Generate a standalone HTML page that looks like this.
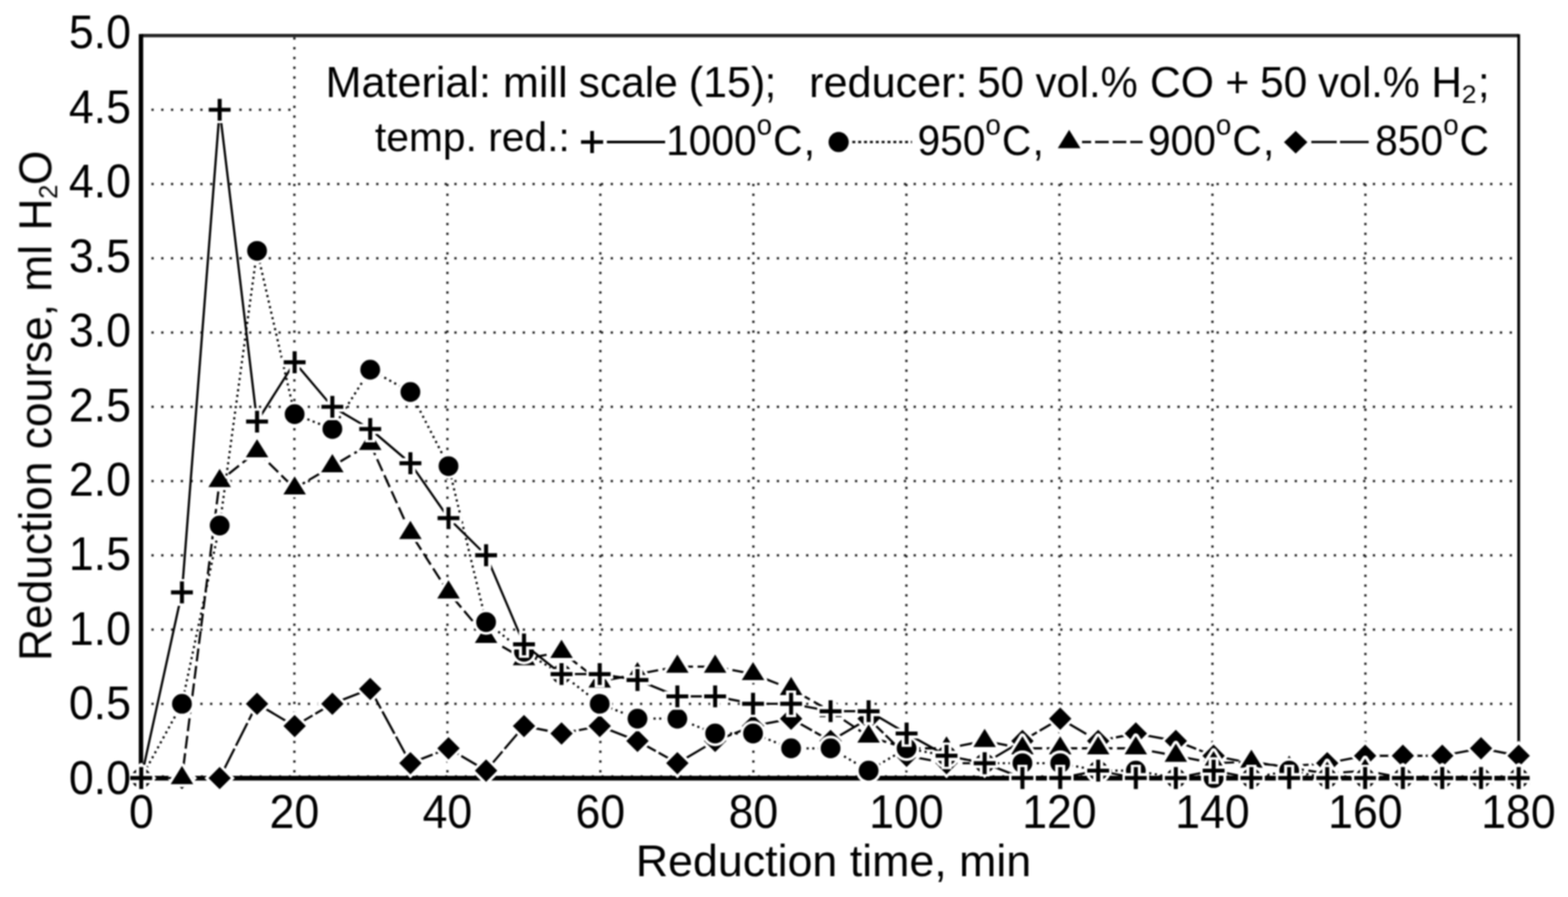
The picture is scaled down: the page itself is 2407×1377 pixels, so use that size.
<!DOCTYPE html>
<html><head><meta charset="utf-8"><title>Reduction course chart</title>
<style>html,body{margin:0;padding:0;background:#fff;}svg{display:block;}text{font-family:"Liberation Sans",Arial,Helvetica,sans-serif;fill:#000;}</style></head><body>
<svg width="2407" height="1377" viewBox="0 0 2407 1377">
<defs><filter id="soft" filterUnits="userSpaceOnUse" x="0" y="0" width="2407" height="1377" color-interpolation-filters="sRGB"><feGaussianBlur stdDeviation="1"/></filter></defs>
<rect width="2407" height="1377" fill="#fff"/>
<g filter="url(#soft)">
<path d="M451.9 57.3V1192M686.8 57.3V1192M921.6 57.3V1192M1156.5 57.3V1192M1391.4 57.3V1192M1626.3 57.3V1192M1861.2 57.3V1192M2096 57.3V1192M232.5 1080.4H2330M232.5 966.4H2330M232.5 852.4H2330M232.5 738.4H2330M232.5 624.5H2330M232.5 510.5H2330M232.5 396.5H2330M232.5 282.5H2330M232.5 168.5H2330" stroke="#1a1a1a" stroke-width="3.5" stroke-dasharray="3.4 11.6" fill="none"/>
<path d="M218.5 1191.5H2330" stroke="#333" stroke-width="3" stroke-dasharray="3 12" fill="none"/>
<rect x="455" y="56" width="1874" height="223" fill="#fff"/>
<path d="M217 54.6H2331.3" stroke="#262626" stroke-width="5.4" fill="none"/>
<path d="M2331.3 52.5V1196" stroke="#000" stroke-width="4.2" fill="none"/>
<path d="M216.4 52.2V1197" stroke="#000" stroke-width="6.8" fill="none"/>
<path d="M214.5 1194.6H2333" stroke="#000" stroke-width="7.2" fill="none"/>
<polyline points="216.8,1194.4 279.3,1194.4 337.2,1194.4 394.6,1080.4 452.3,1114.6 510.2,1080.4 568.3,1057.6 630,1171.6 688.5,1148.8 746.2,1183 804.4,1114.6 862,1126 920.6,1114.6 978.6,1137.4 1039.8,1171.6 1097.8,1137.4 1156,1114.6 1214.4,1103.2 1275,1137.4 1333.4,1103.2 1391.7,1160.2 1453,1171.6 1511.5,1171.6 1569.5,1137.4 1627.5,1103.2 1685.8,1137.4 1743.6,1126 1805,1137.4 1863,1160.2 1921,1171.6 1979,1176.2 2037.4,1171.6 2095.6,1160.2 2153.5,1160.2 2214,1160.2 2273.5,1148.8 2331.3,1160.2" fill="none" stroke="#000" stroke-width="3.4" stroke-linejoin="round" stroke-dasharray="39 5"/>
<path d="M216.8 1177.2L234 1194.4L216.8 1211.6L199.6 1194.4Z" fill="#fff" stroke="#fff" stroke-width="8.5" stroke-linejoin="miter"/><path d="M216.8 1177.2L234 1194.4L216.8 1211.6L199.6 1194.4Z" fill="#000"/><path d="M279.3 1177.2L296.5 1194.4L279.3 1211.6L262.1 1194.4Z" fill="#fff" stroke="#fff" stroke-width="8.5" stroke-linejoin="miter"/><path d="M279.3 1177.2L296.5 1194.4L279.3 1211.6L262.1 1194.4Z" fill="#000"/><path d="M337.2 1177.2L354.4 1194.4L337.2 1211.6L320 1194.4Z" fill="#fff" stroke="#fff" stroke-width="8.5" stroke-linejoin="miter"/><path d="M337.2 1177.2L354.4 1194.4L337.2 1211.6L320 1194.4Z" fill="#000"/><path d="M394.6 1063.2L411.8 1080.4L394.6 1097.6L377.4 1080.4Z" fill="#fff" stroke="#fff" stroke-width="8.5" stroke-linejoin="miter"/><path d="M394.6 1063.2L411.8 1080.4L394.6 1097.6L377.4 1080.4Z" fill="#000"/><path d="M452.3 1097.4L469.5 1114.6L452.3 1131.8L435.1 1114.6Z" fill="#fff" stroke="#fff" stroke-width="8.5" stroke-linejoin="miter"/><path d="M452.3 1097.4L469.5 1114.6L452.3 1131.8L435.1 1114.6Z" fill="#000"/><path d="M510.2 1063.2L527.4 1080.4L510.2 1097.6L493 1080.4Z" fill="#fff" stroke="#fff" stroke-width="8.5" stroke-linejoin="miter"/><path d="M510.2 1063.2L527.4 1080.4L510.2 1097.6L493 1080.4Z" fill="#000"/><path d="M568.3 1040.4L585.5 1057.6L568.3 1074.8L551.1 1057.6Z" fill="#fff" stroke="#fff" stroke-width="8.5" stroke-linejoin="miter"/><path d="M568.3 1040.4L585.5 1057.6L568.3 1074.8L551.1 1057.6Z" fill="#000"/><path d="M630 1154.4L647.2 1171.6L630 1188.8L612.8 1171.6Z" fill="#fff" stroke="#fff" stroke-width="8.5" stroke-linejoin="miter"/><path d="M630 1154.4L647.2 1171.6L630 1188.8L612.8 1171.6Z" fill="#000"/><path d="M688.5 1131.6L705.7 1148.8L688.5 1166L671.3 1148.8Z" fill="#fff" stroke="#fff" stroke-width="8.5" stroke-linejoin="miter"/><path d="M688.5 1131.6L705.7 1148.8L688.5 1166L671.3 1148.8Z" fill="#000"/><path d="M746.2 1165.8L763.4 1183L746.2 1200.2L729 1183Z" fill="#fff" stroke="#fff" stroke-width="8.5" stroke-linejoin="miter"/><path d="M746.2 1165.8L763.4 1183L746.2 1200.2L729 1183Z" fill="#000"/><path d="M804.4 1097.4L821.6 1114.6L804.4 1131.8L787.2 1114.6Z" fill="#fff" stroke="#fff" stroke-width="8.5" stroke-linejoin="miter"/><path d="M804.4 1097.4L821.6 1114.6L804.4 1131.8L787.2 1114.6Z" fill="#000"/><path d="M862 1108.8L879.2 1126L862 1143.2L844.8 1126Z" fill="#fff" stroke="#fff" stroke-width="8.5" stroke-linejoin="miter"/><path d="M862 1108.8L879.2 1126L862 1143.2L844.8 1126Z" fill="#000"/><path d="M920.6 1097.4L937.8 1114.6L920.6 1131.8L903.4 1114.6Z" fill="#fff" stroke="#fff" stroke-width="8.5" stroke-linejoin="miter"/><path d="M920.6 1097.4L937.8 1114.6L920.6 1131.8L903.4 1114.6Z" fill="#000"/><path d="M978.6 1120.2L995.8 1137.4L978.6 1154.6L961.4 1137.4Z" fill="#fff" stroke="#fff" stroke-width="8.5" stroke-linejoin="miter"/><path d="M978.6 1120.2L995.8 1137.4L978.6 1154.6L961.4 1137.4Z" fill="#000"/><path d="M1039.8 1154.4L1057 1171.6L1039.8 1188.8L1022.6 1171.6Z" fill="#fff" stroke="#fff" stroke-width="8.5" stroke-linejoin="miter"/><path d="M1039.8 1154.4L1057 1171.6L1039.8 1188.8L1022.6 1171.6Z" fill="#000"/><path d="M1097.8 1120.2L1115 1137.4L1097.8 1154.6L1080.6 1137.4Z" fill="#fff" stroke="#fff" stroke-width="8.5" stroke-linejoin="miter"/><path d="M1097.8 1120.2L1115 1137.4L1097.8 1154.6L1080.6 1137.4Z" fill="#000"/><path d="M1156 1097.4L1173.2 1114.6L1156 1131.8L1138.8 1114.6Z" fill="#fff" stroke="#fff" stroke-width="8.5" stroke-linejoin="miter"/><path d="M1156 1097.4L1173.2 1114.6L1156 1131.8L1138.8 1114.6Z" fill="#000"/><path d="M1214.4 1086L1231.6 1103.2L1214.4 1120.4L1197.2 1103.2Z" fill="#fff" stroke="#fff" stroke-width="8.5" stroke-linejoin="miter"/><path d="M1214.4 1086L1231.6 1103.2L1214.4 1120.4L1197.2 1103.2Z" fill="#000"/><path d="M1275 1120.2L1292.2 1137.4L1275 1154.6L1257.8 1137.4Z" fill="#fff" stroke="#fff" stroke-width="8.5" stroke-linejoin="miter"/><path d="M1275 1120.2L1292.2 1137.4L1275 1154.6L1257.8 1137.4Z" fill="#000"/><path d="M1333.4 1086L1350.6 1103.2L1333.4 1120.4L1316.2 1103.2Z" fill="#fff" stroke="#fff" stroke-width="8.5" stroke-linejoin="miter"/><path d="M1333.4 1086L1350.6 1103.2L1333.4 1120.4L1316.2 1103.2Z" fill="#000"/><path d="M1391.7 1143L1408.9 1160.2L1391.7 1177.4L1374.5 1160.2Z" fill="#fff" stroke="#fff" stroke-width="8.5" stroke-linejoin="miter"/><path d="M1391.7 1143L1408.9 1160.2L1391.7 1177.4L1374.5 1160.2Z" fill="#000"/><path d="M1453 1154.4L1470.2 1171.6L1453 1188.8L1435.8 1171.6Z" fill="#fff" stroke="#fff" stroke-width="8.5" stroke-linejoin="miter"/><path d="M1453 1154.4L1470.2 1171.6L1453 1188.8L1435.8 1171.6Z" fill="#000"/><path d="M1511.5 1154.4L1528.7 1171.6L1511.5 1188.8L1494.3 1171.6Z" fill="#fff" stroke="#fff" stroke-width="8.5" stroke-linejoin="miter"/><path d="M1511.5 1154.4L1528.7 1171.6L1511.5 1188.8L1494.3 1171.6Z" fill="#000"/><path d="M1569.5 1120.2L1586.7 1137.4L1569.5 1154.6L1552.3 1137.4Z" fill="#fff" stroke="#fff" stroke-width="8.5" stroke-linejoin="miter"/><path d="M1569.5 1120.2L1586.7 1137.4L1569.5 1154.6L1552.3 1137.4Z" fill="#000"/><path d="M1627.5 1086L1644.7 1103.2L1627.5 1120.4L1610.3 1103.2Z" fill="#fff" stroke="#fff" stroke-width="8.5" stroke-linejoin="miter"/><path d="M1627.5 1086L1644.7 1103.2L1627.5 1120.4L1610.3 1103.2Z" fill="#000"/><path d="M1685.8 1120.2L1703 1137.4L1685.8 1154.6L1668.6 1137.4Z" fill="#fff" stroke="#fff" stroke-width="8.5" stroke-linejoin="miter"/><path d="M1685.8 1120.2L1703 1137.4L1685.8 1154.6L1668.6 1137.4Z" fill="#000"/><path d="M1743.6 1108.8L1760.8 1126L1743.6 1143.2L1726.4 1126Z" fill="#fff" stroke="#fff" stroke-width="8.5" stroke-linejoin="miter"/><path d="M1743.6 1108.8L1760.8 1126L1743.6 1143.2L1726.4 1126Z" fill="#000"/><path d="M1805 1120.2L1822.2 1137.4L1805 1154.6L1787.8 1137.4Z" fill="#fff" stroke="#fff" stroke-width="8.5" stroke-linejoin="miter"/><path d="M1805 1120.2L1822.2 1137.4L1805 1154.6L1787.8 1137.4Z" fill="#000"/><path d="M1863 1143L1880.2 1160.2L1863 1177.4L1845.8 1160.2Z" fill="#fff" stroke="#fff" stroke-width="8.5" stroke-linejoin="miter"/><path d="M1863 1143L1880.2 1160.2L1863 1177.4L1845.8 1160.2Z" fill="#000"/><path d="M1921 1154.4L1938.2 1171.6L1921 1188.8L1903.8 1171.6Z" fill="#fff" stroke="#fff" stroke-width="8.5" stroke-linejoin="miter"/><path d="M1921 1154.4L1938.2 1171.6L1921 1188.8L1903.8 1171.6Z" fill="#000"/><path d="M1979 1159L1996.2 1176.2L1979 1193.4L1961.8 1176.2Z" fill="#fff" stroke="#fff" stroke-width="8.5" stroke-linejoin="miter"/><path d="M1979 1159L1996.2 1176.2L1979 1193.4L1961.8 1176.2Z" fill="#000"/><path d="M2037.4 1154.4L2054.6 1171.6L2037.4 1188.8L2020.2 1171.6Z" fill="#fff" stroke="#fff" stroke-width="8.5" stroke-linejoin="miter"/><path d="M2037.4 1154.4L2054.6 1171.6L2037.4 1188.8L2020.2 1171.6Z" fill="#000"/><path d="M2095.6 1143L2112.8 1160.2L2095.6 1177.4L2078.4 1160.2Z" fill="#fff" stroke="#fff" stroke-width="8.5" stroke-linejoin="miter"/><path d="M2095.6 1143L2112.8 1160.2L2095.6 1177.4L2078.4 1160.2Z" fill="#000"/><path d="M2153.5 1143L2170.7 1160.2L2153.5 1177.4L2136.3 1160.2Z" fill="#fff" stroke="#fff" stroke-width="8.5" stroke-linejoin="miter"/><path d="M2153.5 1143L2170.7 1160.2L2153.5 1177.4L2136.3 1160.2Z" fill="#000"/><path d="M2214 1143L2231.2 1160.2L2214 1177.4L2196.8 1160.2Z" fill="#fff" stroke="#fff" stroke-width="8.5" stroke-linejoin="miter"/><path d="M2214 1143L2231.2 1160.2L2214 1177.4L2196.8 1160.2Z" fill="#000"/><path d="M2273.5 1131.6L2290.7 1148.8L2273.5 1166L2256.3 1148.8Z" fill="#fff" stroke="#fff" stroke-width="8.5" stroke-linejoin="miter"/><path d="M2273.5 1131.6L2290.7 1148.8L2273.5 1166L2256.3 1148.8Z" fill="#000"/><path d="M2331.3 1143L2348.5 1160.2L2331.3 1177.4L2314.1 1160.2Z" fill="#fff" stroke="#fff" stroke-width="8.5" stroke-linejoin="miter"/><path d="M2331.3 1143L2348.5 1160.2L2331.3 1177.4L2314.1 1160.2Z" fill="#000"/>
<polyline points="216.8,1194.4 279.3,1194.4 337.2,738.4 394.6,692.8 452.3,749.8 510.2,715.6 568.3,681.4 630,818.2 688.5,909.4 746.2,977.8 804.4,1012 862,1000.6 920.6,1046.2 978.6,1034.8 1039.8,1023.4 1097.8,1023.4 1156,1034.8 1214.4,1057.6 1275,1091.8 1333.4,1130.6 1391.7,1148.8 1453,1148.8 1511.5,1137.4 1569.5,1148.8 1627.5,1148.8 1685.8,1148.8 1743.6,1148.8 1805,1160.2 1863,1171.6 1921,1169.3 1979,1178.4 2037.4,1187.6 2095.6,1183 2153.5,1194.4 2214,1194.4 2273.5,1194.4 2331.3,1194.4" fill="none" stroke="#000" stroke-width="3.4" stroke-linejoin="round" stroke-dasharray="20 7"/>
<path d="M216.8 1175.8L234.1 1203.7L199.5 1203.7Z" fill="#fff" stroke="#fff" stroke-width="9" stroke-linejoin="round"/><path d="M216.8 1175.8L234.1 1203.7L199.5 1203.7Z" fill="#000"/><path d="M279.3 1175.8L296.6 1203.7L262 1203.7Z" fill="#fff" stroke="#fff" stroke-width="9" stroke-linejoin="round"/><path d="M279.3 1175.8L296.6 1203.7L262 1203.7Z" fill="#000"/><path d="M337.2 719.8L354.5 747.7L319.9 747.7Z" fill="#fff" stroke="#fff" stroke-width="9" stroke-linejoin="round"/><path d="M337.2 719.8L354.5 747.7L319.9 747.7Z" fill="#000"/><path d="M394.6 674.2L411.9 702.1L377.3 702.1Z" fill="#fff" stroke="#fff" stroke-width="9" stroke-linejoin="round"/><path d="M394.6 674.2L411.9 702.1L377.3 702.1Z" fill="#000"/><path d="M452.3 731.2L469.6 759.1L435 759.1Z" fill="#fff" stroke="#fff" stroke-width="9" stroke-linejoin="round"/><path d="M452.3 731.2L469.6 759.1L435 759.1Z" fill="#000"/><path d="M510.2 697L527.5 724.9L492.9 724.9Z" fill="#fff" stroke="#fff" stroke-width="9" stroke-linejoin="round"/><path d="M510.2 697L527.5 724.9L492.9 724.9Z" fill="#000"/><path d="M568.3 662.8L585.6 690.7L551 690.7Z" fill="#fff" stroke="#fff" stroke-width="9" stroke-linejoin="round"/><path d="M568.3 662.8L585.6 690.7L551 690.7Z" fill="#000"/><path d="M630 799.6L647.3 827.5L612.7 827.5Z" fill="#fff" stroke="#fff" stroke-width="9" stroke-linejoin="round"/><path d="M630 799.6L647.3 827.5L612.7 827.5Z" fill="#000"/><path d="M688.5 890.8L705.8 918.7L671.2 918.7Z" fill="#fff" stroke="#fff" stroke-width="9" stroke-linejoin="round"/><path d="M688.5 890.8L705.8 918.7L671.2 918.7Z" fill="#000"/><path d="M746.2 959.2L763.5 987.1L728.9 987.1Z" fill="#fff" stroke="#fff" stroke-width="9" stroke-linejoin="round"/><path d="M746.2 959.2L763.5 987.1L728.9 987.1Z" fill="#000"/><path d="M804.4 993.4L821.7 1021.3L787.1 1021.3Z" fill="#fff" stroke="#fff" stroke-width="9" stroke-linejoin="round"/><path d="M804.4 993.4L821.7 1021.3L787.1 1021.3Z" fill="#000"/><path d="M862 982L879.3 1009.9L844.7 1009.9Z" fill="#fff" stroke="#fff" stroke-width="9" stroke-linejoin="round"/><path d="M862 982L879.3 1009.9L844.7 1009.9Z" fill="#000"/><path d="M920.6 1027.6L937.9 1055.5L903.3 1055.5Z" fill="#fff" stroke="#fff" stroke-width="9" stroke-linejoin="round"/><path d="M920.6 1027.6L937.9 1055.5L903.3 1055.5Z" fill="#000"/><path d="M978.6 1016.2L995.9 1044.1L961.3 1044.1Z" fill="#fff" stroke="#fff" stroke-width="9" stroke-linejoin="round"/><path d="M978.6 1016.2L995.9 1044.1L961.3 1044.1Z" fill="#000"/><path d="M1039.8 1004.8L1057.1 1032.7L1022.5 1032.7Z" fill="#fff" stroke="#fff" stroke-width="9" stroke-linejoin="round"/><path d="M1039.8 1004.8L1057.1 1032.7L1022.5 1032.7Z" fill="#000"/><path d="M1097.8 1004.8L1115.1 1032.7L1080.5 1032.7Z" fill="#fff" stroke="#fff" stroke-width="9" stroke-linejoin="round"/><path d="M1097.8 1004.8L1115.1 1032.7L1080.5 1032.7Z" fill="#000"/><path d="M1156 1016.2L1173.3 1044.1L1138.7 1044.1Z" fill="#fff" stroke="#fff" stroke-width="9" stroke-linejoin="round"/><path d="M1156 1016.2L1173.3 1044.1L1138.7 1044.1Z" fill="#000"/><path d="M1214.4 1039L1231.7 1066.9L1197.1 1066.9Z" fill="#fff" stroke="#fff" stroke-width="9" stroke-linejoin="round"/><path d="M1214.4 1039L1231.7 1066.9L1197.1 1066.9Z" fill="#000"/><path d="M1275 1073.2L1292.3 1101.1L1257.7 1101.1Z" fill="#fff" stroke="#fff" stroke-width="9" stroke-linejoin="round"/><path d="M1275 1073.2L1292.3 1101.1L1257.7 1101.1Z" fill="#000"/><path d="M1333.4 1112L1350.7 1139.9L1316.1 1139.9Z" fill="#fff" stroke="#fff" stroke-width="9" stroke-linejoin="round"/><path d="M1333.4 1112L1350.7 1139.9L1316.1 1139.9Z" fill="#000"/><path d="M1391.7 1130.2L1409 1158.1L1374.4 1158.1Z" fill="#fff" stroke="#fff" stroke-width="9" stroke-linejoin="round"/><path d="M1391.7 1130.2L1409 1158.1L1374.4 1158.1Z" fill="#000"/><path d="M1453 1130.2L1470.3 1158.1L1435.7 1158.1Z" fill="#fff" stroke="#fff" stroke-width="9" stroke-linejoin="round"/><path d="M1453 1130.2L1470.3 1158.1L1435.7 1158.1Z" fill="#000"/><path d="M1511.5 1118.8L1528.8 1146.7L1494.2 1146.7Z" fill="#fff" stroke="#fff" stroke-width="9" stroke-linejoin="round"/><path d="M1511.5 1118.8L1528.8 1146.7L1494.2 1146.7Z" fill="#000"/><path d="M1569.5 1130.2L1586.8 1158.1L1552.2 1158.1Z" fill="#fff" stroke="#fff" stroke-width="9" stroke-linejoin="round"/><path d="M1569.5 1130.2L1586.8 1158.1L1552.2 1158.1Z" fill="#000"/><path d="M1627.5 1130.2L1644.8 1158.1L1610.2 1158.1Z" fill="#fff" stroke="#fff" stroke-width="9" stroke-linejoin="round"/><path d="M1627.5 1130.2L1644.8 1158.1L1610.2 1158.1Z" fill="#000"/><path d="M1685.8 1130.2L1703.1 1158.1L1668.5 1158.1Z" fill="#fff" stroke="#fff" stroke-width="9" stroke-linejoin="round"/><path d="M1685.8 1130.2L1703.1 1158.1L1668.5 1158.1Z" fill="#000"/><path d="M1743.6 1130.2L1760.9 1158.1L1726.3 1158.1Z" fill="#fff" stroke="#fff" stroke-width="9" stroke-linejoin="round"/><path d="M1743.6 1130.2L1760.9 1158.1L1726.3 1158.1Z" fill="#000"/><path d="M1805 1141.6L1822.3 1169.5L1787.7 1169.5Z" fill="#fff" stroke="#fff" stroke-width="9" stroke-linejoin="round"/><path d="M1805 1141.6L1822.3 1169.5L1787.7 1169.5Z" fill="#000"/><path d="M1863 1153L1880.3 1180.9L1845.7 1180.9Z" fill="#fff" stroke="#fff" stroke-width="9" stroke-linejoin="round"/><path d="M1863 1153L1880.3 1180.9L1845.7 1180.9Z" fill="#000"/><path d="M1921 1150.7L1938.3 1178.6L1903.7 1178.6Z" fill="#fff" stroke="#fff" stroke-width="9" stroke-linejoin="round"/><path d="M1921 1150.7L1938.3 1178.6L1903.7 1178.6Z" fill="#000"/><path d="M1979 1159.8L1996.3 1187.7L1961.7 1187.7Z" fill="#fff" stroke="#fff" stroke-width="9" stroke-linejoin="round"/><path d="M1979 1159.8L1996.3 1187.7L1961.7 1187.7Z" fill="#000"/><path d="M2037.4 1169L2054.7 1196.9L2020.1 1196.9Z" fill="#fff" stroke="#fff" stroke-width="9" stroke-linejoin="round"/><path d="M2037.4 1169L2054.7 1196.9L2020.1 1196.9Z" fill="#000"/><path d="M2095.6 1164.4L2112.9 1192.3L2078.3 1192.3Z" fill="#fff" stroke="#fff" stroke-width="9" stroke-linejoin="round"/><path d="M2095.6 1164.4L2112.9 1192.3L2078.3 1192.3Z" fill="#000"/><path d="M2153.5 1175.8L2170.8 1203.7L2136.2 1203.7Z" fill="#fff" stroke="#fff" stroke-width="9" stroke-linejoin="round"/><path d="M2153.5 1175.8L2170.8 1203.7L2136.2 1203.7Z" fill="#000"/><path d="M2214 1175.8L2231.3 1203.7L2196.7 1203.7Z" fill="#fff" stroke="#fff" stroke-width="9" stroke-linejoin="round"/><path d="M2214 1175.8L2231.3 1203.7L2196.7 1203.7Z" fill="#000"/><path d="M2273.5 1175.8L2290.8 1203.7L2256.2 1203.7Z" fill="#fff" stroke="#fff" stroke-width="9" stroke-linejoin="round"/><path d="M2273.5 1175.8L2290.8 1203.7L2256.2 1203.7Z" fill="#000"/><path d="M2331.3 1175.8L2348.6 1203.7L2314 1203.7Z" fill="#fff" stroke="#fff" stroke-width="9" stroke-linejoin="round"/><path d="M2331.3 1175.8L2348.6 1203.7L2314 1203.7Z" fill="#000"/>
<polyline points="216.8,1194.4 279.3,1080.4 337.2,806.8 394.6,385.1 452.3,635.8 510.2,658.6 568.3,567.5 630,601.7 688.5,715.6 746.2,955 804.4,1000.6 862,1034.8 920.6,1080.4 978.6,1103.2 1039.8,1103.2 1097.8,1126 1156,1126 1214.4,1148.8 1275,1148.8 1333.4,1183 1391.7,1148.8 1453,1160.2 1511.5,1171.6 1569.5,1171.6 1627.5,1171.6 1685.8,1183 1743.6,1183 1805,1194.4 1863,1194.4 1921,1194.4 1979,1183 2037.4,1194.4 2095.6,1194.4 2153.5,1194.4 2214,1194.4 2273.5,1194.4 2331.3,1194.4" fill="none" stroke="#000" stroke-width="3.3" stroke-linejoin="round" stroke-dasharray="3.3 5.4"/>
<circle cx="216.8" cy="1194.4" r="19.5" fill="#fff"/><circle cx="216.8" cy="1194.4" r="15.2" fill="#000"/><circle cx="279.3" cy="1080.4" r="19.5" fill="#fff"/><circle cx="279.3" cy="1080.4" r="15.2" fill="#000"/><circle cx="337.2" cy="806.8" r="19.5" fill="#fff"/><circle cx="337.2" cy="806.8" r="15.2" fill="#000"/><circle cx="394.6" cy="385.1" r="19.5" fill="#fff"/><circle cx="394.6" cy="385.1" r="15.2" fill="#000"/><circle cx="452.3" cy="635.8" r="19.5" fill="#fff"/><circle cx="452.3" cy="635.8" r="15.2" fill="#000"/><circle cx="510.2" cy="658.6" r="19.5" fill="#fff"/><circle cx="510.2" cy="658.6" r="15.2" fill="#000"/><circle cx="568.3" cy="567.5" r="19.5" fill="#fff"/><circle cx="568.3" cy="567.5" r="15.2" fill="#000"/><circle cx="630" cy="601.7" r="19.5" fill="#fff"/><circle cx="630" cy="601.7" r="15.2" fill="#000"/><circle cx="688.5" cy="715.6" r="19.5" fill="#fff"/><circle cx="688.5" cy="715.6" r="15.2" fill="#000"/><circle cx="746.2" cy="955" r="19.5" fill="#fff"/><circle cx="746.2" cy="955" r="15.2" fill="#000"/><circle cx="804.4" cy="1000.6" r="19.5" fill="#fff"/><circle cx="804.4" cy="1000.6" r="15.2" fill="#000"/><circle cx="862" cy="1034.8" r="19.5" fill="#fff"/><circle cx="862" cy="1034.8" r="15.2" fill="#000"/><circle cx="920.6" cy="1080.4" r="19.5" fill="#fff"/><circle cx="920.6" cy="1080.4" r="15.2" fill="#000"/><circle cx="978.6" cy="1103.2" r="19.5" fill="#fff"/><circle cx="978.6" cy="1103.2" r="15.2" fill="#000"/><circle cx="1039.8" cy="1103.2" r="19.5" fill="#fff"/><circle cx="1039.8" cy="1103.2" r="15.2" fill="#000"/><circle cx="1097.8" cy="1126" r="19.5" fill="#fff"/><circle cx="1097.8" cy="1126" r="15.2" fill="#000"/><circle cx="1156" cy="1126" r="19.5" fill="#fff"/><circle cx="1156" cy="1126" r="15.2" fill="#000"/><circle cx="1214.4" cy="1148.8" r="19.5" fill="#fff"/><circle cx="1214.4" cy="1148.8" r="15.2" fill="#000"/><circle cx="1275" cy="1148.8" r="19.5" fill="#fff"/><circle cx="1275" cy="1148.8" r="15.2" fill="#000"/><circle cx="1333.4" cy="1183" r="19.5" fill="#fff"/><circle cx="1333.4" cy="1183" r="15.2" fill="#000"/><circle cx="1391.7" cy="1148.8" r="19.5" fill="#fff"/><circle cx="1391.7" cy="1148.8" r="15.2" fill="#000"/><circle cx="1453" cy="1160.2" r="19.5" fill="#fff"/><circle cx="1453" cy="1160.2" r="15.2" fill="#000"/><circle cx="1511.5" cy="1171.6" r="19.5" fill="#fff"/><circle cx="1511.5" cy="1171.6" r="15.2" fill="#000"/><circle cx="1569.5" cy="1171.6" r="19.5" fill="#fff"/><circle cx="1569.5" cy="1171.6" r="15.2" fill="#000"/><circle cx="1627.5" cy="1171.6" r="19.5" fill="#fff"/><circle cx="1627.5" cy="1171.6" r="15.2" fill="#000"/><circle cx="1685.8" cy="1183" r="19.5" fill="#fff"/><circle cx="1685.8" cy="1183" r="15.2" fill="#000"/><circle cx="1743.6" cy="1183" r="19.5" fill="#fff"/><circle cx="1743.6" cy="1183" r="15.2" fill="#000"/><circle cx="1805" cy="1194.4" r="19.5" fill="#fff"/><circle cx="1805" cy="1194.4" r="15.2" fill="#000"/><circle cx="1863" cy="1194.4" r="19.5" fill="#fff"/><circle cx="1863" cy="1194.4" r="15.2" fill="#000"/><circle cx="1921" cy="1194.4" r="19.5" fill="#fff"/><circle cx="1921" cy="1194.4" r="15.2" fill="#000"/><circle cx="1979" cy="1183" r="19.5" fill="#fff"/><circle cx="1979" cy="1183" r="15.2" fill="#000"/><circle cx="2037.4" cy="1194.4" r="19.5" fill="#fff"/><circle cx="2037.4" cy="1194.4" r="15.2" fill="#000"/><circle cx="2095.6" cy="1194.4" r="19.5" fill="#fff"/><circle cx="2095.6" cy="1194.4" r="15.2" fill="#000"/><circle cx="2153.5" cy="1194.4" r="19.5" fill="#fff"/><circle cx="2153.5" cy="1194.4" r="15.2" fill="#000"/><circle cx="2214" cy="1194.4" r="19.5" fill="#fff"/><circle cx="2214" cy="1194.4" r="15.2" fill="#000"/><circle cx="2273.5" cy="1194.4" r="19.5" fill="#fff"/><circle cx="2273.5" cy="1194.4" r="15.2" fill="#000"/><circle cx="2331.3" cy="1194.4" r="19.5" fill="#fff"/><circle cx="2331.3" cy="1194.4" r="15.2" fill="#000"/>
<polyline points="216.8,1194.4 279.3,909.4 337.2,168.5 394.6,647.2 452.3,556.1 510.2,624.5 568.3,658.6 630,711.1 688.5,795.4 746.2,852.4 804.4,989.2 862,1034.8 920.6,1034.8 978.6,1043.9 1039.8,1069 1097.8,1069 1156,1080.4 1214.4,1080.4 1275,1091.8 1333.4,1091.8 1391.7,1126 1453,1160.2 1511.5,1171.6 1569.5,1194.4 1627.5,1194.4 1685.8,1183 1743.6,1194.4 1805,1194.4 1863,1183 1921,1194.4 1979,1194.4 2037.4,1194.4 2095.6,1194.4 2153.5,1194.4 2214,1194.4 2273.5,1194.4 2331.3,1194.4" fill="none" stroke="#000" stroke-width="3.4" stroke-linejoin="round"/>
<path d="M196.3 1194.4H237.3M216.8 1173.9V1214.9" stroke="#fff" stroke-width="15.5" stroke-linecap="butt"/><path d="M200 1194.4H233.6M216.8 1177.6V1211.2" stroke="#000" stroke-width="6.2"/><path d="M258.8 909.4H299.8M279.3 888.9V929.9" stroke="#fff" stroke-width="15.5" stroke-linecap="butt"/><path d="M262.5 909.4H296.1M279.3 892.6V926.2" stroke="#000" stroke-width="6.2"/><path d="M316.7 168.5H357.7M337.2 148V189" stroke="#fff" stroke-width="15.5" stroke-linecap="butt"/><path d="M320.4 168.5H354M337.2 151.7V185.3" stroke="#000" stroke-width="6.2"/><path d="M374.1 647.2H415.1M394.6 626.7V667.7" stroke="#fff" stroke-width="15.5" stroke-linecap="butt"/><path d="M377.8 647.2H411.4M394.6 630.4V664" stroke="#000" stroke-width="6.2"/><path d="M431.8 556.1H472.8M452.3 535.6V576.6" stroke="#fff" stroke-width="15.5" stroke-linecap="butt"/><path d="M435.5 556.1H469.1M452.3 539.3V572.9" stroke="#000" stroke-width="6.2"/><path d="M489.7 624.5H530.7M510.2 604V645" stroke="#fff" stroke-width="15.5" stroke-linecap="butt"/><path d="M493.4 624.5H527M510.2 607.7V641.3" stroke="#000" stroke-width="6.2"/><path d="M547.8 658.6H588.8M568.3 638.1V679.1" stroke="#fff" stroke-width="15.5" stroke-linecap="butt"/><path d="M551.5 658.6H585.1M568.3 641.8V675.4" stroke="#000" stroke-width="6.2"/><path d="M609.5 711.1H650.5M630 690.6V731.6" stroke="#fff" stroke-width="15.5" stroke-linecap="butt"/><path d="M613.2 711.1H646.8M630 694.3V727.9" stroke="#000" stroke-width="6.2"/><path d="M668 795.4H709M688.5 774.9V815.9" stroke="#fff" stroke-width="15.5" stroke-linecap="butt"/><path d="M671.7 795.4H705.3M688.5 778.6V812.2" stroke="#000" stroke-width="6.2"/><path d="M725.7 852.4H766.7M746.2 831.9V872.9" stroke="#fff" stroke-width="15.5" stroke-linecap="butt"/><path d="M729.4 852.4H763M746.2 835.6V869.2" stroke="#000" stroke-width="6.2"/><path d="M783.9 989.2H824.9M804.4 968.7V1009.7" stroke="#fff" stroke-width="15.5" stroke-linecap="butt"/><path d="M787.6 989.2H821.2M804.4 972.4V1006" stroke="#000" stroke-width="6.2"/><path d="M841.5 1034.8H882.5M862 1014.3V1055.3" stroke="#fff" stroke-width="15.5" stroke-linecap="butt"/><path d="M845.2 1034.8H878.8M862 1018V1051.6" stroke="#000" stroke-width="6.2"/><path d="M900.1 1034.8H941.1M920.6 1014.3V1055.3" stroke="#fff" stroke-width="15.5" stroke-linecap="butt"/><path d="M903.8 1034.8H937.4M920.6 1018V1051.6" stroke="#000" stroke-width="6.2"/><path d="M958.1 1043.9H999.1M978.6 1023.4V1064.4" stroke="#fff" stroke-width="15.5" stroke-linecap="butt"/><path d="M961.8 1043.9H995.4M978.6 1027.1V1060.7" stroke="#000" stroke-width="6.2"/><path d="M1019.3 1069H1060.3M1039.8 1048.5V1089.5" stroke="#fff" stroke-width="15.5" stroke-linecap="butt"/><path d="M1023 1069H1056.6M1039.8 1052.2V1085.8" stroke="#000" stroke-width="6.2"/><path d="M1077.3 1069H1118.3M1097.8 1048.5V1089.5" stroke="#fff" stroke-width="15.5" stroke-linecap="butt"/><path d="M1081 1069H1114.6M1097.8 1052.2V1085.8" stroke="#000" stroke-width="6.2"/><path d="M1135.5 1080.4H1176.5M1156 1059.9V1100.9" stroke="#fff" stroke-width="15.5" stroke-linecap="butt"/><path d="M1139.2 1080.4H1172.8M1156 1063.6V1097.2" stroke="#000" stroke-width="6.2"/><path d="M1193.9 1080.4H1234.9M1214.4 1059.9V1100.9" stroke="#fff" stroke-width="15.5" stroke-linecap="butt"/><path d="M1197.6 1080.4H1231.2M1214.4 1063.6V1097.2" stroke="#000" stroke-width="6.2"/><path d="M1254.5 1091.8H1295.5M1275 1071.3V1112.3" stroke="#fff" stroke-width="15.5" stroke-linecap="butt"/><path d="M1258.2 1091.8H1291.8M1275 1075V1108.6" stroke="#000" stroke-width="6.2"/><path d="M1312.9 1091.8H1353.9M1333.4 1071.3V1112.3" stroke="#fff" stroke-width="15.5" stroke-linecap="butt"/><path d="M1316.6 1091.8H1350.2M1333.4 1075V1108.6" stroke="#000" stroke-width="6.2"/><path d="M1371.2 1126H1412.2M1391.7 1105.5V1146.5" stroke="#fff" stroke-width="15.5" stroke-linecap="butt"/><path d="M1374.9 1126H1408.5M1391.7 1109.2V1142.8" stroke="#000" stroke-width="6.2"/><path d="M1432.5 1160.2H1473.5M1453 1139.7V1180.7" stroke="#fff" stroke-width="15.5" stroke-linecap="butt"/><path d="M1436.2 1160.2H1469.8M1453 1143.4V1177" stroke="#000" stroke-width="6.2"/><path d="M1491 1171.6H1532M1511.5 1151.1V1192.1" stroke="#fff" stroke-width="15.5" stroke-linecap="butt"/><path d="M1494.7 1171.6H1528.3M1511.5 1154.8V1188.4" stroke="#000" stroke-width="6.2"/><path d="M1549 1194.4H1590M1569.5 1173.9V1214.9" stroke="#fff" stroke-width="15.5" stroke-linecap="butt"/><path d="M1552.7 1194.4H1586.3M1569.5 1177.6V1211.2" stroke="#000" stroke-width="6.2"/><path d="M1607 1194.4H1648M1627.5 1173.9V1214.9" stroke="#fff" stroke-width="15.5" stroke-linecap="butt"/><path d="M1610.7 1194.4H1644.3M1627.5 1177.6V1211.2" stroke="#000" stroke-width="6.2"/><path d="M1665.3 1183H1706.3M1685.8 1162.5V1203.5" stroke="#fff" stroke-width="15.5" stroke-linecap="butt"/><path d="M1669 1183H1702.6M1685.8 1166.2V1199.8" stroke="#000" stroke-width="6.2"/><path d="M1723.1 1194.4H1764.1M1743.6 1173.9V1214.9" stroke="#fff" stroke-width="15.5" stroke-linecap="butt"/><path d="M1726.8 1194.4H1760.4M1743.6 1177.6V1211.2" stroke="#000" stroke-width="6.2"/><path d="M1784.5 1194.4H1825.5M1805 1173.9V1214.9" stroke="#fff" stroke-width="15.5" stroke-linecap="butt"/><path d="M1788.2 1194.4H1821.8M1805 1177.6V1211.2" stroke="#000" stroke-width="6.2"/><path d="M1842.5 1183H1883.5M1863 1162.5V1203.5" stroke="#fff" stroke-width="15.5" stroke-linecap="butt"/><path d="M1846.2 1183H1879.8M1863 1166.2V1199.8" stroke="#000" stroke-width="6.2"/><path d="M1900.5 1194.4H1941.5M1921 1173.9V1214.9" stroke="#fff" stroke-width="15.5" stroke-linecap="butt"/><path d="M1904.2 1194.4H1937.8M1921 1177.6V1211.2" stroke="#000" stroke-width="6.2"/><path d="M1958.5 1194.4H1999.5M1979 1173.9V1214.9" stroke="#fff" stroke-width="15.5" stroke-linecap="butt"/><path d="M1962.2 1194.4H1995.8M1979 1177.6V1211.2" stroke="#000" stroke-width="6.2"/><path d="M2016.9 1194.4H2057.9M2037.4 1173.9V1214.9" stroke="#fff" stroke-width="15.5" stroke-linecap="butt"/><path d="M2020.6 1194.4H2054.2M2037.4 1177.6V1211.2" stroke="#000" stroke-width="6.2"/><path d="M2075.1 1194.4H2116.1M2095.6 1173.9V1214.9" stroke="#fff" stroke-width="15.5" stroke-linecap="butt"/><path d="M2078.8 1194.4H2112.4M2095.6 1177.6V1211.2" stroke="#000" stroke-width="6.2"/><path d="M2133 1194.4H2174M2153.5 1173.9V1214.9" stroke="#fff" stroke-width="15.5" stroke-linecap="butt"/><path d="M2136.7 1194.4H2170.3M2153.5 1177.6V1211.2" stroke="#000" stroke-width="6.2"/><path d="M2193.5 1194.4H2234.5M2214 1173.9V1214.9" stroke="#fff" stroke-width="15.5" stroke-linecap="butt"/><path d="M2197.2 1194.4H2230.8M2214 1177.6V1211.2" stroke="#000" stroke-width="6.2"/><path d="M2253 1194.4H2294M2273.5 1173.9V1214.9" stroke="#fff" stroke-width="15.5" stroke-linecap="butt"/><path d="M2256.7 1194.4H2290.3M2273.5 1177.6V1211.2" stroke="#000" stroke-width="6.2"/><path d="M2310.8 1194.4H2351.8M2331.3 1173.9V1214.9" stroke="#fff" stroke-width="15.5" stroke-linecap="butt"/><path d="M2314.5 1194.4H2348.1M2331.3 1177.6V1211.2" stroke="#000" stroke-width="6.2"/>
<text transform="translate(201 1218.7) scale(1 1.05)" font-size="68.5" text-anchor="end">0.0</text>
<text transform="translate(201 1104.3) scale(1 1.05)" font-size="68.5" text-anchor="end">0.5</text>
<text transform="translate(201 989.8) scale(1 1.05)" font-size="68.5" text-anchor="end">1.0</text>
<text transform="translate(201 875.4) scale(1 1.05)" font-size="68.5" text-anchor="end">1.5</text>
<text transform="translate(201 761) scale(1 1.05)" font-size="68.5" text-anchor="end">2.0</text>
<text transform="translate(201 646.5) scale(1 1.05)" font-size="68.5" text-anchor="end">2.5</text>
<text transform="translate(201 532.1) scale(1 1.05)" font-size="68.5" text-anchor="end">3.0</text>
<text transform="translate(201 417.7) scale(1 1.05)" font-size="68.5" text-anchor="end">3.5</text>
<text transform="translate(201 303.3) scale(1 1.05)" font-size="68.5" text-anchor="end">4.0</text>
<text transform="translate(201 188.8) scale(1 1.05)" font-size="68.5" text-anchor="end">4.5</text>
<text transform="translate(201 74.4) scale(1 1.05)" font-size="68.5" text-anchor="end">5.0</text>
<text transform="translate(217 1270.5) scale(1 1.05)" font-size="68.5" text-anchor="middle">0</text>
<text transform="translate(451.9 1270.5) scale(1 1.05)" font-size="68.5" text-anchor="middle">20</text>
<text transform="translate(686.8 1270.5) scale(1 1.05)" font-size="68.5" text-anchor="middle">40</text>
<text transform="translate(921.6 1270.5) scale(1 1.05)" font-size="68.5" text-anchor="middle">60</text>
<text transform="translate(1156.5 1270.5) scale(1 1.05)" font-size="68.5" text-anchor="middle">80</text>
<text transform="translate(1391.4 1270.5) scale(1 1.05)" font-size="68.5" text-anchor="middle">100</text>
<text transform="translate(1626.3 1270.5) scale(1 1.05)" font-size="68.5" text-anchor="middle">120</text>
<text transform="translate(1861.2 1270.5) scale(1 1.05)" font-size="68.5" text-anchor="middle">140</text>
<text transform="translate(2096 1270.5) scale(1 1.05)" font-size="68.5" text-anchor="middle">160</text>
<text transform="translate(2330.9 1270.5) scale(1 1.05)" font-size="68.5" text-anchor="middle">180</text>
<text transform="translate(976 1345.2) scale(1 1.01)" font-size="68.5" textLength="607" lengthAdjust="spacingAndGlyphs">Reduction time, min</text>
<text transform="translate(78.6 1014.6) rotate(-90) scale(1 1.045)" font-size="68">Reduction course, ml <tspan x="660.8">H</tspan><tspan font-size="39.5" x="709.2" y="9.2">2</tspan><tspan x="730.5" y="0">O</tspan></text>
<text transform="translate(499.83 148.50) scale(1 1.03)" font-size="64" textLength="253.76" lengthAdjust="spacingAndGlyphs">Material:</text>
<text transform="translate(772.06 148.50) scale(1 1.03)" font-size="64" textLength="99.35" lengthAdjust="spacingAndGlyphs">mill</text>
<text transform="translate(888.36 148.50) scale(1 1.03)" font-size="64" textLength="152.09" lengthAdjust="spacingAndGlyphs">scale</text>
<text transform="translate(1057.17 148.50) scale(1 1.03)" font-size="64" textLength="117.57" lengthAdjust="spacingAndGlyphs">(15)</text>
<text transform="translate(1173.85 148.50) scale(1 1.03)" font-size="64">;</text>
<text transform="translate(1242.06 148.50) scale(1 1.03)" font-size="64" textLength="243.23" lengthAdjust="spacingAndGlyphs">reducer:</text>
<text transform="translate(1500.28 148.50) scale(1 1.03)" font-size="64" textLength="71.62" lengthAdjust="spacingAndGlyphs">50</text>
<text transform="translate(1589.70 148.50) scale(1 1.03)" font-size="64" textLength="156.90" lengthAdjust="spacingAndGlyphs">vol.%</text>
<text transform="translate(1765.22 148.50) scale(1 1.03)" font-size="64" textLength="98.45" lengthAdjust="spacingAndGlyphs">CO</text>
<text transform="translate(1881.05 148.50) scale(1 1.03)" font-size="64" textLength="36.77" lengthAdjust="spacingAndGlyphs">+</text>
<text transform="translate(1934.15 148.50) scale(1 1.03)" font-size="64" textLength="72.48" lengthAdjust="spacingAndGlyphs">50</text>
<text transform="translate(2023.60 148.50) scale(1 1.03)" font-size="64" textLength="155.89" lengthAdjust="spacingAndGlyphs">vol.%</text>
<text transform="translate(2197.32 148.50) scale(1 1.03)" font-size="64" textLength="46.99" lengthAdjust="spacingAndGlyphs">H</text>
<text transform="translate(2243.87 157.50) scale(1 1.0)" font-size="38.5" textLength="22.83" lengthAdjust="spacingAndGlyphs">2</text>
<text transform="translate(2268.85 148.50) scale(1 1.03)" font-size="64">;</text>
<text transform="translate(575.5 232.2) scale(1 1.01)" font-size="62.6">temp. red.:</text>
<path d="M891.9 218H925.9M908.9 201V235" stroke="#000" stroke-width="5.6"/>
<path d="M931.6 218H1021" stroke="#000" stroke-width="4"/>
<text transform="translate(1022.5 238.3) scale(1 1.05)" font-size="62.5">1000<tspan font-size="42.5" dy="-29.5">o</tspan><tspan dy="29.5" dx="1.5">C</tspan><tspan dx="2">,</tspan></text>
<circle cx="1287.4" cy="218.1" r="15.5"/>
<path d="M1308.4 218H1400" stroke="#000" stroke-width="3.6" stroke-dasharray="4.5 4.5"/>
<text transform="translate(1408.5 238.3) scale(1 1.05)" font-size="62.5">950<tspan font-size="42.5" dy="-29.5">o</tspan><tspan dy="29.5" dx="1.5">C</tspan><tspan dx="2">,</tspan></text>
<path d="M1641.2 199.3L1658.6 227.6H1623.8Z"/>
<path d="M1661 218H1754" stroke="#000" stroke-width="3.6" stroke-dasharray="14 6 21 6 21 6 21 6"/>
<text transform="translate(1762.3 238.3) scale(1 1.05)" font-size="62.5">900<tspan font-size="42.5" dy="-29.5">o</tspan><tspan dy="29.5" dx="1.5">C</tspan><tspan dx="2">,</tspan></text>
<path d="M1989 200.9L2007 218.3L1989 235.8L1971 218.3Z"/>
<path d="M2013 218H2101" stroke="#000" stroke-width="3.6" stroke-dasharray="39 5 44 100"/>
<text transform="translate(2111.1 238.3) scale(1 1.05)" font-size="62.5">850<tspan font-size="42.5" dy="-29.5">o</tspan><tspan dy="29.5" dx="1.5">C</tspan></text>
</g>
</svg></body></html>
